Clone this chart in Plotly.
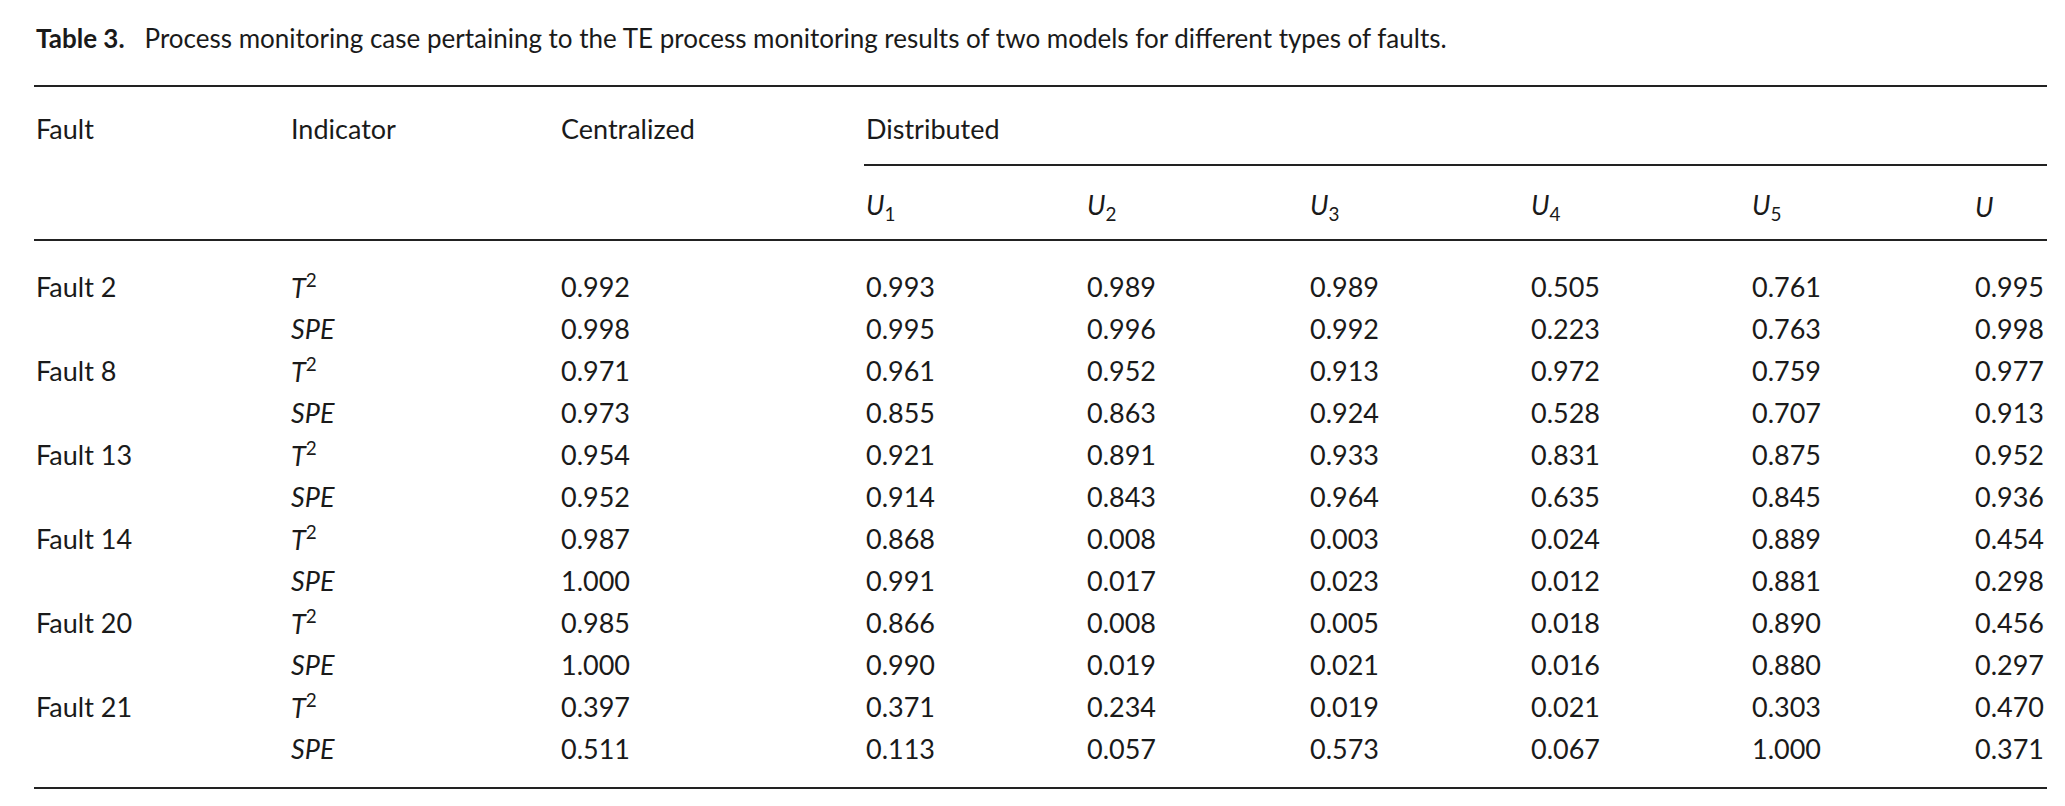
import plotly.graph_objects as go

faults = ["Fault 2", "Fault 8", "Fault 13", "Fault 14", "Fault 20", "Fault 21"]
indicators = ["<i>T</i><sup>2</sup>", "<i>SPE</i>"]
sub_heads = ["<i>U</i><sub>1</sub>", "<i>U</i><sub>2</sub>", "<i>U</i><sub>3</sub>",
             "<i>U</i><sub>4</sub>", "<i>U</i><sub>5</sub>", "<i>U</i>"]

centralized = ["0.992", "0.998", "0.971", "0.973", "0.954", "0.952",
               "0.987", "1.000", "0.985", "1.000", "0.397", "0.511"]
u1 = ["0.993", "0.995", "0.961", "0.855", "0.921", "0.914", "0.868", "0.991", "0.866", "0.990", "0.371", "0.113"]
u2 = ["0.989", "0.996", "0.952", "0.863", "0.891", "0.843", "0.008", "0.017", "0.008", "0.019", "0.234", "0.057"]
u3 = ["0.989", "0.992", "0.913", "0.924", "0.933", "0.964", "0.003", "0.023", "0.005", "0.021", "0.019", "0.573"]
u4 = ["0.505", "0.223", "0.972", "0.528", "0.831", "0.635", "0.024", "0.012", "0.018", "0.016", "0.021", "0.067"]
u5 = ["0.761", "0.763", "0.759", "0.707", "0.875", "0.845", "0.889", "0.881", "0.890", "0.880", "0.303", "1.000"]
u_all = ["0.995", "0.998", "0.977", "0.913", "0.952", "0.936", "0.454", "0.298", "0.456", "0.297", "0.470", "0.371"]

W, H = 2065, 806
FONT = "Lato"
col_x = [26, 281, 551, 856, 1077, 1300, 1521, 1742, 1965]
row0, row_step = 278, 42.0
x_left, x_right = 26, 2039

fig = go.Figure()
anns = []


def txt(x, y, s, size=27, color="#1a1a1a"):
    anns.append(dict(x=x, y=y, text=s, showarrow=False, xanchor="left", yanchor="middle",
                     font=dict(family=FONT, size=size, color=color)))


txt(x_left, 30, "<b>Table 3.</b>   Process monitoring case pertaining to the TE process monitoring "
    "results of two models for different types of faults.", size=26)
txt(col_x[0], 120, "Fault")
txt(col_x[1], 120, "Indicator")
txt(col_x[2], 120, "Centralized")
txt(col_x[3], 120, "Distributed")
for i, h in enumerate(sub_heads):
    txt(col_x[3 + i], 198, h)

columns = [centralized, u1, u2, u3, u4, u5, u_all]
for r in range(len(centralized)):
    y = row0 + r * row_step
    if r % 2 == 0:
        txt(col_x[0], y, faults[r // 2])
    txt(col_x[1], y, indicators[r % 2])
    for c, col in enumerate(columns):
        txt(col_x[2 + c], y, col[r])

shapes = []
for x0, y0 in [(x_left, 78), (col_x[3], 157), (x_left, 232), (x_left, 780)]:
    shapes.append(dict(type="line", x0=x0, x1=x_right, y0=y0, y1=y0,
                       line=dict(color="#222222", width=2)))

fig.update_layout(
    width=W, height=H, margin=dict(l=0, r=0, t=0, b=0),
    paper_bgcolor="white", plot_bgcolor="white",
    xaxis=dict(range=[0, W], visible=False, fixedrange=True),
    yaxis=dict(range=[H, 0], visible=False, fixedrange=True),
    annotations=anns, shapes=shapes, showlegend=False,
)
fig.write_html("out.html")
